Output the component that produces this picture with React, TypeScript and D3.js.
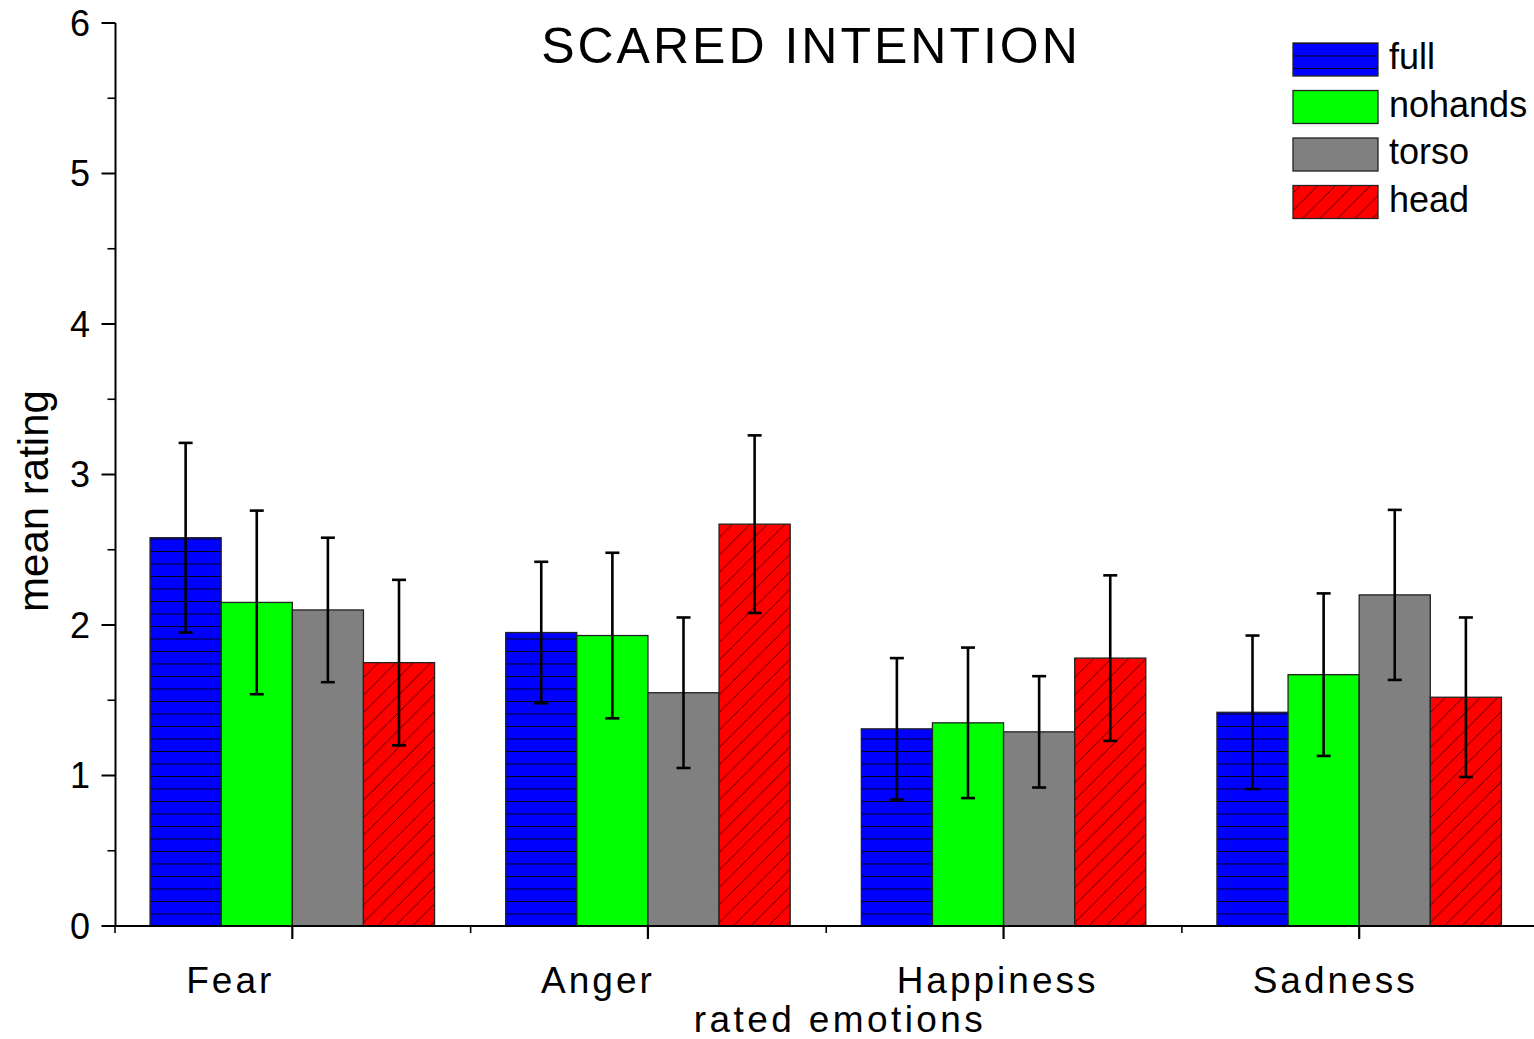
import React from 'react';
import * as d3 from 'd3';

const categories = ['Fear', 'Anger', 'Happiness', 'Sadness'];
const seriesNames = ['full', 'nohands', 'torso', 'head'];
const fullMeans = [2.58, 1.95, 1.31, 1.42];
const fullErr = [0.63, 0.47, 0.47, 0.51];
const nohandsMeans = [2.15, 1.93, 1.35, 1.67];
const nohandsErr = [0.61, 0.55, 0.5, 0.54];
const torsoMeans = [2.1, 1.55, 1.29, 2.2];
const torsoErr = [0.48, 0.5, 0.37, 0.565];
const headMeans = [1.75, 2.67, 1.78, 1.52];
const headErr = [0.55, 0.59, 0.55, 0.53];
const yTicks = [0, 1, 2, 3, 4, 5, 6];
const title = 'SCARED INTENTION';
const xTitle = 'rated emotions';
const yTitle = 'mean rating';

const seriesMeans = [fullMeans, nohandsMeans, torsoMeans, headMeans];
const seriesErr = [fullErr, nohandsErr, torsoErr, headErr];
const fills = ['url(#hatchH)', '#00ff00', '#808080', 'url(#hatchD)'];
const legendFills = ['url(#hatchHL)', '#00ff00', '#808080', 'url(#hatchD)'];
// label horizontal shifts relative to the category centre (as in the reference)
const labelShift = [-62, -50, -6, -24];

const FONT = '"Liberation Sans", Arial, sans-serif';

export default function App() {
  const W = 1534;
  const H = 1039;
  const x0 = d3.scaleBand<string>().domain(categories).range([114.5, 1537]).paddingInner(0.2).paddingOuter(0.1);
  const x1 = d3.scaleBand<string>().domain(seriesNames).range([0, x0.bandwidth()]).padding(0);
  const y = d3.scaleLinear().domain([0, 6]).range([926, 23]);
  const axisX = 115.5;
  const step = x0.step();
  const minorY = d3.range(0.5, 6, 1);
  const boundaries = categories.map((c) => (x0(c) as number) - (step * 0.2) / 2);

  return (
    <svg width={W} height={H} style={{ position: 'absolute', left: 0, top: 0, display: 'block', background: '#fff' }}>
      <defs>
        <pattern id="hatchH" patternUnits="userSpaceOnUse" x={0} y={926} width={20} height={12.5}>
          <rect width={20} height={12.5} fill="#0000ff" />
          <line x1={0} x2={20} y1={0} y2={0} stroke="#000" strokeWidth={1.8} />
        </pattern>
        <pattern id="hatchHL" patternUnits="userSpaceOnUse" x={0} y={43} width={20} height={12.5}>
          <rect width={20} height={12.5} fill="#0000ff" />
          <line x1={0} x2={20} y1={0} y2={0} stroke="#000" strokeWidth={1.8} />
        </pattern>
        <pattern id="hatchD" patternUnits="userSpaceOnUse" x={0} y={926} width={17.5} height={17.5}>
          <rect width={17.5} height={17.5} fill="#ff0000" />
          <path d="M-2,19.5 L19.5,-2 M-2,2 L2,-2 M15.5,19.5 L19.5,15.5" stroke="#3a0000" strokeWidth={0.9} />
        </pattern>
      </defs>

      {/* bars */}
      {categories.map((c, ci) => (
        <g key={c} transform={`translate(${x0(c)},0)`}>
          {seriesNames.map((s, si) => {
            const v = seriesMeans[si][ci];
            return (
              <rect
                key={s}
                x={x1(s)}
                y={y(v)}
                width={x1.bandwidth()}
                height={y(0) - y(v)}
                fill={fills[si]}
                stroke="#222"
                strokeWidth={1.3}
              />
            );
          })}
        </g>
      ))}

      {/* error bars */}
      {categories.map((c, ci) => (
        <g key={c + 'e'} transform={`translate(${x0(c)},0)`}>
          {seriesNames.map((s, si) => {
            const v = seriesMeans[si][ci];
            const e = seriesErr[si][ci];
            const cx = (x1(s) as number) + x1.bandwidth() / 2;
            return (
              <g key={s} stroke="#000" strokeWidth={2.6}>
                <line x1={cx} x2={cx} y1={y(v + e)} y2={y(v - e)} />
                <line x1={cx - 7} x2={cx + 7} y1={y(v + e)} y2={y(v + e)} />
                <line x1={cx - 7} x2={cx + 7} y1={y(v - e)} y2={y(v - e)} />
              </g>
            );
          })}
        </g>
      ))}

      {/* y axis */}
      <line x1={axisX} x2={axisX} y1={y(6)} y2={y(0)} stroke="#000" strokeWidth={2} />
      {yTicks.map((t) => (
        <g key={t}>
          <line x1={axisX - 14} x2={axisX} y1={y(t)} y2={y(t)} stroke="#000" strokeWidth={2} />
          <text x={90} y={y(t)} dy="0.36em" textAnchor="end" fontFamily={FONT} fontSize={36} fill="#000">
            {t}
          </text>
        </g>
      ))}
      {minorY.map((t) => (
        <line key={t} x1={axisX - 8} x2={axisX} y1={y(t)} y2={y(t)} stroke="#000" strokeWidth={1.6} />
      ))}

      {/* x axis */}
      <line x1={axisX} x2={W} y1={y(0)} y2={y(0)} stroke="#000" strokeWidth={2} />
      {categories.map((c, ci) => {
        const cx = (x0(c) as number) + x0.bandwidth() / 2;
        return (
          <g key={c + 't'}>
            <line x1={cx} x2={cx} y1={y(0)} y2={y(0) + 13} stroke="#000" strokeWidth={2.2} />
            <line x1={boundaries[ci] + 0.5} x2={boundaries[ci] + 0.5} y1={y(0)} y2={y(0) + 7} stroke="#000" strokeWidth={1.6} />
            <text
              x={cx + labelShift[ci]}
              y={993}
              textAnchor="middle"
              fontFamily={FONT}
              fontSize={37}
              letterSpacing={3}
              fill="#000"
            >
              {c}
            </text>
          </g>
        );
      })}

      {/* titles */}
      <text x={811} y={63} textAnchor="middle" fontFamily={FONT} fontSize={50} letterSpacing={3} fill="#000">
        {title}
      </text>
      <text x={840} y={1032} textAnchor="middle" fontFamily={FONT} fontSize={37} letterSpacing={3.4} fill="#000">
        {xTitle}
      </text>
      <text
        transform={`translate(48,501) rotate(-90)`}
        textAnchor="middle"
        fontFamily={FONT}
        fontSize={42}
        fill="#000"
      >
        {yTitle}
      </text>

      {/* legend */}
      {seriesNames.map((s, si) => {
        const top = 43 + si * 47.5;
        return (
          <g key={s + 'l'}>
            <rect x={1293} y={top} width={85} height={33} fill={legendFills[si]} stroke="#222" strokeWidth={1.3} />
            <text x={1389} y={top + 13.5} dy="0.36em" fontFamily={FONT} fontSize={36} fill="#000">
              {s}
            </text>
          </g>
        );
      })}
    </svg>
  );
}
